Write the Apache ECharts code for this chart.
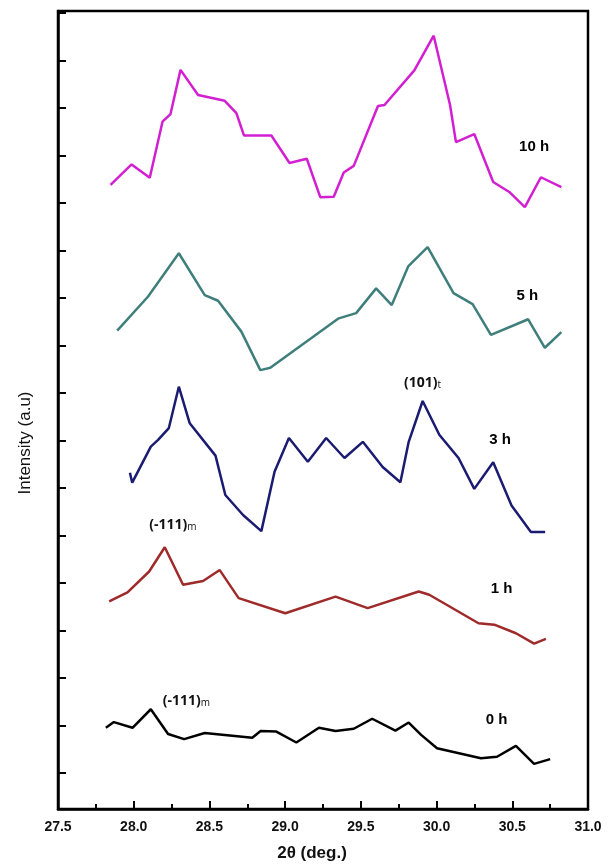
<!DOCTYPE html>
<html>
<head>
<meta charset="utf-8">
<script src="https://cdn.jsdelivr.net/npm/echarts@6/dist/echarts.min.js"></script>
<style>
  html, body { margin: 0; padding: 0; background: #fff; }
  #chart { width: 609px; height: 864px; }
</style>
</head>
<body>
<div id="chart"></div>
<script>
// XRD patterns (2θ vs. stacked intensity) after different milling times
const x10h = [27.847, 27.986, 28.106, 28.190, 28.243, 28.309, 28.425, 28.601, 28.678, 28.728, 28.909, 29.029, 29.143, 29.232, 29.321, 29.387, 29.453, 29.613, 29.656, 29.853, 29.981, 30.089, 30.128, 30.249, 30.374, 30.480, 30.583, 30.689, 30.824];
const y10h = [12.38, 12.81, 12.53, 13.71, 13.87, 14.80, 14.27, 14.15, 13.89, 13.42, 13.42, 12.84, 12.93, 12.12, 12.13, 12.64, 12.78, 14.04, 14.06, 14.79, 15.52, 14.06, 13.28, 13.45, 12.44, 12.23, 11.91, 12.54, 12.33];

const x5h = [27.891, 28.095, 28.298, 28.469, 28.557, 28.711, 28.836, 28.902, 29.354, 29.469, 29.601, 29.704, 29.814, 29.941, 30.112, 30.238, 30.359, 30.605, 30.715, 30.824];
const y5h = [9.31, 10.03, 10.94, 10.06, 9.94, 9.29, 8.48, 8.53, 9.57, 9.68, 10.20, 9.85, 10.67, 11.07, 10.10, 9.87, 9.22, 9.55, 8.95, 9.28];

const x3h = [27.975, 27.990, 28.113, 28.161, 28.232, 28.298, 28.370, 28.540, 28.605, 28.722, 28.843, 28.930, 29.025, 29.150, 29.271, 29.392, 29.513, 29.644, 29.761, 29.816, 29.908, 30.018, 30.145, 30.249, 30.374, 30.495, 30.623, 30.717];
const y3h = [6.32, 6.11, 6.87, 7.01, 7.26, 8.13, 7.36, 6.68, 5.85, 5.43, 5.09, 6.34, 7.05, 6.55, 7.05, 6.63, 6.97, 6.44, 6.12, 6.97, 7.83, 7.12, 6.63, 5.98, 6.54, 5.63, 5.07, 5.07];

const x1h = [27.838, 27.959, 28.102, 28.205, 28.326, 28.458, 28.568, 28.693, 29.001, 29.333, 29.545, 29.882, 29.952, 30.277, 30.381, 30.524, 30.644, 30.722];
const y1h = [3.61, 3.80, 4.24, 4.75, 3.96, 4.04, 4.27, 3.68, 3.36, 3.71, 3.47, 3.82, 3.75, 3.15, 3.12, 2.94, 2.72, 2.82];

const x0h = [27.816, 27.869, 27.992, 28.113, 28.227, 28.333, 28.469, 28.783, 28.838, 28.942, 29.074, 29.223, 29.333, 29.453, 29.575, 29.728, 29.816, 29.898, 30.003, 30.293, 30.399, 30.524, 30.644, 30.750];
const y0h = [0.95, 1.07, 0.95, 1.34, 0.82, 0.71, 0.84, 0.74, 0.88, 0.87, 0.64, 0.95, 0.88, 0.93, 1.14, 0.89, 1.06, 0.80, 0.52, 0.31, 0.34, 0.57, 0.19, 0.29];

const xTicks = [27.5, 28.0, 28.5, 29.0, 29.5, 30.0, 30.5, 31.0];
const yTicks = [0, 1, 2, 3, 4, 5, 6, 7, 8, 9, 10, 11, 12, 13, 14, 15, 16];

// Curve labels and reflection indices, anchored in data coordinates
const notes = [
  { text: '{b|10 h}', at: [30.644, 13.19] },
  { text: '{b|5 h}', at: [30.600, 10.05] },
  { text: '{b|3 h}', at: [30.420, 7.01] },
  { text: '{b|1 h}', at: [30.429, 3.87] },
  { text: '{b|0 h}', at: [30.396, 1.12] },
  { text: '{p|(101)}{s|t}', at: [29.908, 8.24] },
  { text: '{p|(-111)}{s|m}', at: [28.258, 5.26] },
  { text: '{p|(-111)}{s|m}', at: [28.348, 1.56] }
];

const zip = (xs, ys) => xs.map((x, i) => [x, ys[i]]);

function lineSeries(name, xs, ys, color) {
  return {
    name: name,
    type: 'line',
    data: zip(xs, ys),
    symbol: 'none',
    smooth: false,
    lineStyle: { color: color, width: 2.5 },
    itemStyle: { color: color },
    z: 3
  };
}

const richStyles = {
  b: { fontFamily: '"Liberation Sans", Arial, sans-serif', fontWeight: 'bold', fontSize: 15, fill: '#000', lineHeight: 18 },
  p: { fontFamily: '"Open Sans", sans-serif', fontWeight: 'bold', fontSize: 14, fill: '#111', lineHeight: 18, verticalAlign: 'bottom' },
  s: { fontFamily: '"Open Sans", sans-serif', fontWeight: 'normal', fontSize: 10, fill: '#111', lineHeight: 18, verticalAlign: 'bottom', padding: [6, 0, 0, 0] }
};

const chart = echarts.init(document.getElementById('chart'), null, { renderer: 'canvas' });

chart.setOption({
  animation: false,
  backgroundColor: '#ffffff',
  grid: {
    left: 58, right: 21, top: 11, bottom: 55,
    show: true, borderColor: '#000', borderWidth: 2.5, backgroundColor: 'transparent'
  },
  xAxis: {
    type: 'value',
    min: 27.5, max: 31.0, interval: 0.5,
    axisLine: { show: true, onZero: false, lineStyle: { color: '#000', width: 2.5 } },
    axisTick: { show: true, inside: true, length: 8, lineStyle: { color: '#000', width: 2 } },
    minorTick: { show: true, splitNumber: 2, length: 5, lineStyle: { color: '#000', width: 2 } },
    splitLine: { show: false },
    axisLabel: {
      color: '#111', fontFamily: 'Liberation Sans, Arial, sans-serif', fontWeight: 'bold', fontSize: 14,
      margin: 11,
      customValues: xTicks,
      formatter: v => v.toFixed(1)
    }
  },
  yAxis: {
    type: 'value',
    min: -0.76, max: 16.04,
    axisLine: { show: true, onZero: false, lineStyle: { color: '#000', width: 2.5 } },
    axisTick: { show: true, inside: true, length: 8, customValues: yTicks, lineStyle: { color: '#000', width: 2 } },
    splitLine: { show: false },
    axisLabel: { show: false }
  },
  series: [
    lineSeries('10 h', x10h, y10h, '#d21fd2'),
    lineSeries('5 h', x5h, y5h, '#3f7f7b'),
    lineSeries('3 h', x3h, y3h, '#1b1b72'),
    lineSeries('1 h', x1h, y1h, '#9e2a2a'),
    lineSeries('0 h', x0h, y0h, '#000000')
  ]
});

// Axis titles plus curve annotations placed through the axes' own scales
const graphics = [
  {
    type: 'text', x: 25, y: 443, rotation: Math.PI / 2,
    style: {
      text: 'Intensity (a.u)', fill: '#111',
      font: '17px "Liberation Sans", Arial, sans-serif',
      x: 0, y: 0, textAlign: 'center', textVerticalAlign: 'middle'
    }
  },
  {
    type: 'text',
    style: {
      text: '2θ (deg.)', fill: '#111',
      font: 'bold 17px "Liberation Sans", Arial, sans-serif',
      x: 312, y: 853, textAlign: 'center', textVerticalAlign: 'middle'
    }
  }
];
notes.forEach(n => {
  const [px, py] = chart.convertToPixel({ gridIndex: 0 }, n.at);
  graphics.push({
    type: 'text', z: 10,
    style: {
      text: n.text, x: px, y: py,
      align: 'center', verticalAlign: 'middle',
      rich: richStyles
    }
  });
});
chart.setOption({ graphic: graphics });
</script>
</body>
</html>
